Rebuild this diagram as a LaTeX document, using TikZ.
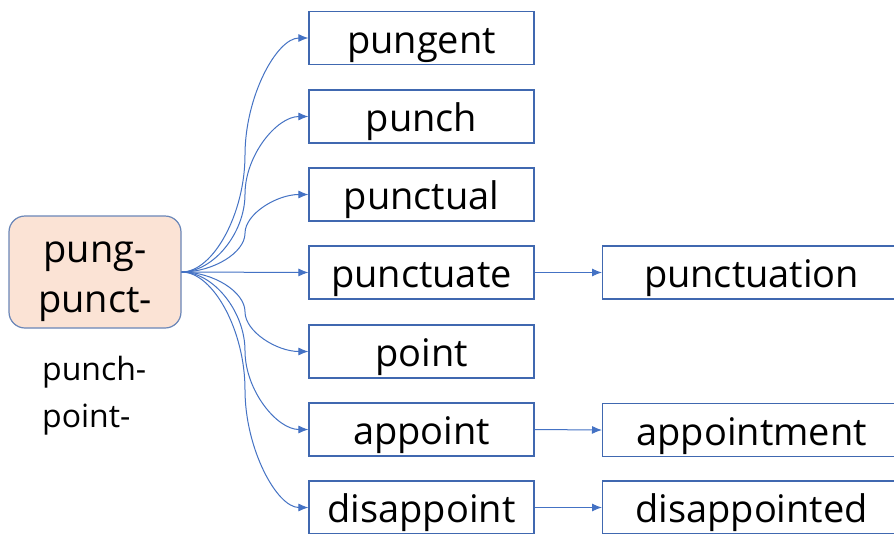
\documentclass[tikz,border=0pt]{standalone}
\usepackage{fontspec}
\setmainfont{Open Sans}
\usetikzlibrary{arrows.meta,calc}
\definecolor{boxline}{HTML}{4068B0}
\definecolor{arrowblue}{HTML}{4472C4}
\definecolor{rootfill}{HTML}{FBE3D5}
\definecolor{rootline}{HTML}{6A86B8}
\tikzset{
  wordbox/.style={draw=boxline, line width=1.2pt, fill=white, minimum width=225pt, minimum height=53pt,
    inner sep=0pt, font=\fontsize{38}{42}\selectfont, text height=32pt, text depth=2pt},
  widebox/.style={wordbox, minimum width=298pt},
  rootbox/.style={draw=rootline, line width=1.2pt, fill=rootfill, rounded corners=16pt,
    minimum width=172pt, minimum height=112pt, inner sep=0pt, align=center,
    font=\fontsize{38}{50}\selectfont, text height=80pt, text depth=0pt},
  arr/.style={draw=arrowblue, line width=1pt, -{Latex[length=10pt,width=8pt]}},
}
\newcommand\curvearrow[2]{%
  \draw[arr] let \p1=(#1.east), \p2=(#2.west) in
    (\p1) .. controls ({(3*\x1+\x2)/4},\y1) and ({(\x1+\x2)/2},{(3*\y1+\y2)/4}) ..
    ({(\x1+\x2)/2},{(\y1+\y2)/2}) .. controls ({(\x1+\x2)/2},{(\y1+3*\y2)/4}) and ({(\x1+3*\x2)/4},\y2) .. (\p2);}
\begin{document}
\begin{tikzpicture}[x=1pt,y=-1pt]
\clip (0,0) rectangle (894,533);
\fill[white] (0,0) rectangle (894,533);
\node[rootbox] (root) at (95,272) {pung-\\punct-};
\node[font=\fontsize{32}{47}\selectfont, align=left, anchor=base west, inner sep=0pt] (alt) at (42,427) {punch-\\point-};
\node[wordbox] (b1) at (421.5,38) {pungent};
\node[wordbox] (b2) at (421.5,116.5) {punch};
\node[wordbox] (b3) at (421.5,194.5) {punctual};
\node[wordbox] (b4) at (421.5,272.5) {punctuate};
\node[wordbox] (b5) at (421.5,351.5) {point};
\node[wordbox] (b6) at (421.5,429.5) {appoint};
\node[wordbox] (b7) at (421.5,507.5) {disappoint};
\node[widebox, anchor=west] (c4) at (602,272.5) {punctuation};
\node[widebox, anchor=west] (c6) at (602,430) {appointment};
\node[widebox, anchor=west] (c7) at (602,507.5) {disappointed};
\curvearrow{root}{b1}
\curvearrow{root}{b2}
\curvearrow{root}{b3}
\draw[arr] (root.east) -- (b4.west);
\curvearrow{root}{b5}
\curvearrow{root}{b6}
\curvearrow{root}{b7}
\draw[arr] (b4.east) -- (c4.west);
\draw[arr] (b6.east) -- (c6.west);
\draw[arr] (b7.east) -- (c7.west);
\end{tikzpicture}
\end{document}
